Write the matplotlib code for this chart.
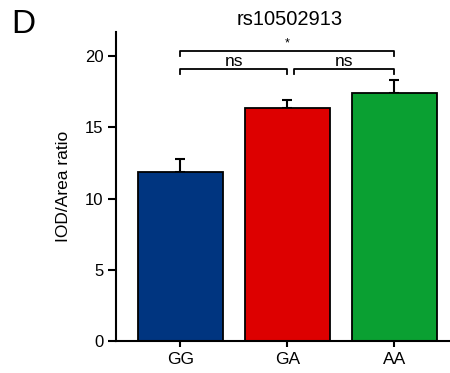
import matplotlib
matplotlib.use("Agg")
from matplotlib import pyplot as plt
import numpy as np

plt.rcParams['font.family'] = ['Liberation Sans', 'DejaVu Sans']

# data
genotypes = ["GG", "GA", "AA"]
means = [11.85, 16.35, 17.4]
sem = [0.9, 0.6, 0.9]
colors = ["#003580", "#dd0000", "#0aa032"]

# significance brackets: (left bar, right bar, level, label)
comparisons = [(0, 1, 19.1, "ns"), (1, 2, 19.1, "ns"), (0, 2, 20.35, "*")]

fig = plt.figure(figsize=(4.5, 3.73), dpi=100)
ax = fig.add_axes([0.258, 0.086, 0.742, 0.828])

x = np.arange(len(genotypes))
ax.bar(x, means, width=0.8, color=colors, edgecolor="black", linewidth=1.3, zorder=2)
ax.errorbar(x, means, yerr=[np.zeros(len(sem)), sem], fmt="none", ecolor="black",
            elinewidth=1.5, capsize=3.8, capthick=1.5, zorder=1)

drop = 0.35
for i, j, lvl, lab in comparisons:
    x0, x1 = x[i], x[j]
    if lab == "ns":
        # leave a little gap between neighbouring ns brackets
        if i == 1:
            x0 += 0.06
    ax.plot([x0, x0, x1, x1], [lvl - drop, lvl, lvl, lvl - drop], color="black", lw=1.3,
            clip_on=False)
    if lab == "*":
        ax.text((x0 + x1) / 2, lvl + 0.12, lab, ha="center", va="bottom", fontsize=9)
    else:
        ax.text((x0 + x1) / 2, lvl + 0.02, lab, ha="center", va="bottom", fontsize=12.5)

ax.set_xlim(-0.6, 2.52)
ax.set_ylim(0, 21.7)
ax.set_yticks([0, 5, 10, 15, 20])
ax.set_xticks(x)
ax.set_xticklabels(genotypes)
ax.tick_params(axis="y", length=6, width=1.5, labelsize=12, pad=3)
ax.tick_params(axis="x", length=4, width=1.5, labelsize=12.5, pad=4)
ax.set_ylabel("IOD/Area ratio", fontsize=12.5, labelpad=10)
ax.spines["top"].set_visible(False)
ax.spines["right"].set_visible(False)
ax.spines["left"].set_linewidth(1.5)
ax.spines["bottom"].set_linewidth(1.5)

fig.text(0.643, 0.947, "rs10502913", ha="center", va="center", fontsize=14.5)
fig.text(0.025, 0.933, "D", ha="left", va="center", fontsize=24)

fig.savefig("out.png", dpi=100)
